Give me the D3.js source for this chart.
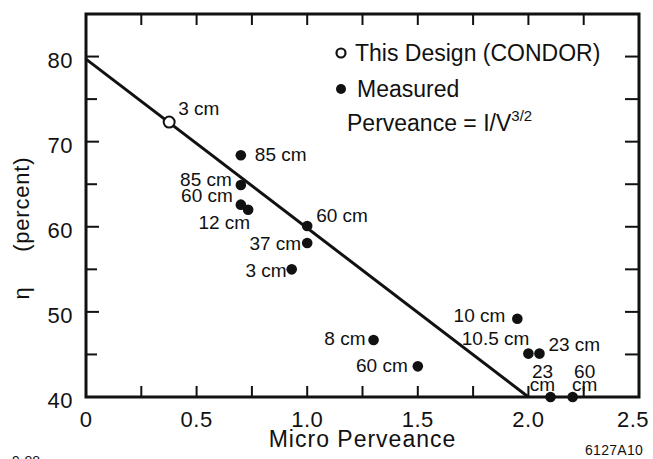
<!DOCTYPE html>
<meta charset="utf-8">
<style>
    body { margin: 0; background: #ffffff; }
    svg { display: block; }
    text { font-family: "Liberation Sans", Arial, Helvetica, sans-serif; fill: #111111; }
</style>

<script src="https://d3js.org/d3.v7.min.js"></script>

<svg id="chart" width="653" height="459"></svg>

<script>

// Data

var xTickValues = [0, 0.5, 1.0, 1.5, 2.0, 2.5];
var xTickLabels = ['0', '0.5', '1.0', '1.5', '2.0', '2.5'];
var yTickValues = [40, 50, 60, 70, 80];

// This design (open circle)
var designX = [0.376];
var designY = [72.3];
var designLabels = ['3 cm'];

// Measured tubes (filled circles)
var measuredX = [0.70, 0.70, 0.70, 0.733, 1.0, 1.0, 0.93, 1.30, 1.50, 1.95, 2.0, 2.05, 2.10, 2.20];
var measuredY = [68.4, 64.9, 62.6, 62.0, 60.1, 58.1, 55.0, 46.7, 43.6, 49.2, 45.1, 45.1, 40.0, 40.0];
var measuredLabels = ['85 cm', '85 cm', '60 cm', '12 cm', '60 cm', '37 cm', '3 cm', '8 cm',
                      '60 cm', '10 cm', '10.5 cm', '23 cm', '23\ncm', '60\ncm'];

// Straight line through the design point
var fitX = [0, 2.0];
var fitY = [79.7, 40];


// Setup

var svg = d3.select('svg#chart');

var plotLeft = 86, plotRight = 639, plotTop = 14, plotBottom = 397;
var tickLen = 13;

var x = d3.scaleLinear().domain([0, 2.5]).range([plotLeft, plotRight]);
var y = d3.scaleLinear().domain([40, 85]).range([plotBottom, plotTop]);

// label placement for each measured point: [dx, dy, anchor]
var measuredPlace = [
    [14, 6, 'start'], [-9, 1, 'end'], [-8, -3, 'end'], [2, 19, 'end'],
    [9, -4, 'start'], [-6, 7, 'end'], [-5, 8, 'end'], [-8, 5, 'end'],
    [-10, 6, 'end'], [-12, 3, 'end'], [1, -9, 'end'], [9, -3, 'start'],
    [-8, -19, 'middle'], [12, -19, 'middle']
];


// Ticks (inward on all four sides)

var minorX = d3.range(0, 2.5001, 0.25);
var minorY = d3.range(40, 85, 5);

svg.append('g').selectAll('line')
    .data(minorX).enter().append('line')
    .attr('x1', function (d) { return x(d); }).attr('x2', function (d) { return x(d); })
    .attr('y1', plotBottom).attr('y2', plotBottom - tickLen + 2)
    .attr('stroke', '#111').attr('stroke-width', 2);

svg.append('g').selectAll('line')
    .data(minorX).enter().append('line')
    .attr('x1', function (d) { return x(d); }).attr('x2', function (d) { return x(d); })
    .attr('y1', plotTop).attr('y2', plotTop + tickLen - 2)
    .attr('stroke', '#111').attr('stroke-width', 2);

svg.append('g').selectAll('line')
    .data(minorY).enter().append('line')
    .attr('y1', function (d) { return y(d); }).attr('y2', function (d) { return y(d); })
    .attr('x1', plotLeft).attr('x2', function (d) { return plotLeft + (d % 10 === 0 ? tickLen : tickLen - 2); })
    .attr('stroke', '#111').attr('stroke-width', 2);

svg.append('g').selectAll('line')
    .data(minorY).enter().append('line')
    .attr('y1', function (d) { return y(d); }).attr('y2', function (d) { return y(d); })
    .attr('x1', plotRight).attr('x2', plotRight - tickLen - 1)
    .attr('stroke', '#111').attr('stroke-width', 2);

// Frame
svg.append('rect')
    .attr('x', plotLeft).attr('y', plotTop)
    .attr('width', plotRight - plotLeft).attr('height', plotBottom - plotTop)
    .attr('fill', 'none').attr('stroke', '#111').attr('stroke-width', 3);


// Tick labels

svg.append('g').selectAll('text')
    .data(xTickValues).enter().append('text')
    .attr('x', function (d) { return x(d); })
    .attr('dx', function (d, i) { return i === xTickValues.length - 1 ? -6 : 0; })
    .attr('y', 427)
    .attr('text-anchor', 'middle')
    .style('font-size', '22px')
    .style('letter-spacing', '0.5px')
    .text(function (d, i) { return xTickLabels[i]; });

svg.append('g').selectAll('text')
    .data(yTickValues).enter().append('text')
    .attr('x', 73)
    .attr('y', function (d) { return y(d) + 11; })
    .attr('text-anchor', 'end')
    .style('font-size', '22px')
    .style('letter-spacing', '0.5px')
    .text(function (d) { return d; });


// Axis titles

svg.append('text')
    .attr('x', (plotLeft + plotRight) / 2)
    .attr('y', 447)
    .attr('text-anchor', 'middle')
    .style('font-size', '23px')
    .style('letter-spacing', '1px')
    .text('Micro Perveance');

svg.append('text')
    .attr('transform', 'translate(29,228) rotate(-90)')
    .attr('text-anchor', 'middle')
    .style('font-size', '22px')
    .style('letter-spacing', '0.8px')
    .style('white-space', 'pre')
    .text('\u03b7     (percent)');


// Fitted line

var line = d3.line()
    .x(function (d) { return x(d[0]); })
    .y(function (d) { return y(d[1]); });

svg.append('path')
    .attr('d', line(d3.zip(fitX, fitY)))
    .attr('fill', 'none')
    .attr('stroke', '#111')
    .attr('stroke-width', 3);


// Points

var measured = d3.range(measuredX.length).map(function (i) {
    return { x: measuredX[i], y: measuredY[i], label: measuredLabels[i], place: measuredPlace[i] };
});

svg.append('g').selectAll('circle')
    .data(measured).enter().append('circle')
    .attr('cx', function (d) { return x(d.x); })
    .attr('cy', function (d) { return y(d.y); })
    .attr('r', 5.3)
    .attr('fill', '#111');

var labels = svg.append('g').selectAll('text')
    .data(measured).enter().append('text')
    .attr('x', function (d) { return x(d.x) + d.place[0]; })
    .attr('y', function (d) { return y(d.y) + d.place[1]; })
    .attr('text-anchor', function (d) { return d.place[2]; })
    .style('font-size', '19px');

labels.each(function (d) {
    var parts = d.label.split('\n');
    var t = d3.select(this);
    parts.forEach(function (p, k) {
        t.append('tspan')
            .attr('x', x(d.x) + d.place[0])
            .attr('dy', k === 0 ? 0 : 12.5)
            .text(p);
    });
});

svg.append('g').selectAll('circle')
    .data(designX).enter().append('circle')
    .attr('cx', function (d) { return x(d); })
    .attr('cy', function (d, i) { return y(designY[i]); })
    .attr('r', 5.5)
    .attr('fill', '#fff')
    .attr('stroke', '#111')
    .attr('stroke-width', 2);

svg.append('g').selectAll('text')
    .data(designX).enter().append('text')
    .attr('x', function (d) { return x(d) + 9; })
    .attr('y', function (d, i) { return y(designY[i]) - 7; })
    .style('font-size', '19px')
    .text(function (d, i) { return designLabels[i]; });


// Legend

var legend = svg.append('g');

legend.append('circle')
    .attr('cx', 341).attr('cy', 53).attr('r', 4.5)
    .attr('fill', '#fff').attr('stroke', '#111').attr('stroke-width', 2.2);
legend.append('text')
    .attr('x', 355).attr('y', 61)
    .style('font-size', '23px')
    .text('This Design (CONDOR)');

legend.append('circle')
    .attr('cx', 341).attr('cy', 89).attr('r', 5)
    .attr('fill', '#111');
legend.append('text')
    .attr('x', 357).attr('y', 97)
    .style('font-size', '23px')
    .text('Measured');

var perv = legend.append('text')
    .attr('x', 347).attr('y', 131)
    .style('font-size', '23px');
perv.append('tspan').text('Perveance = I/V');
perv.append('tspan')
    .attr('dy', -10)
    .style('font-size', '15px')
    .text('3/2');


// Figure codes

svg.append('text')
    .attr('x', 12).attr('y', 466)
    .style('font-size', '14px')
    .text('9-88');

svg.append('text')
    .attr('x', 585).attr('y', 455)
    .style('font-size', '14px')
    .style('letter-spacing', '0.3px')
    .text('6127A10');

</script>
